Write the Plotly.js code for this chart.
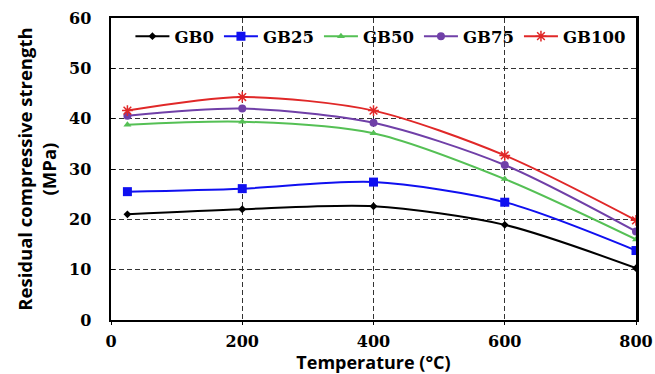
<!DOCTYPE html>
<html><head><meta charset="utf-8">
<script src="https://cdn.plot.ly/plotly-3.0.1.min.js"></script>
<style>html,body{margin:0;padding:0;background:#fff}#chart{width:655px;height:374px}</style>
</head><body><div id="chart"></div>
<script>
var temperature = [25, 200, 400, 600, 800];
var seriesNames = ["GB0", "GB25", "GB50", "GB75", "GB100"];
var gb0   = [21.0, 22.0, 22.6, 18.9, 10.3];
var gb25  = [25.5, 26.1, 27.4, 23.4, 13.8];
var gb50  = [38.8, 39.4, 37.1, 28.0, 16.0];
var gb75  = [40.6, 42.0, 39.2, 30.8, 17.6];
var gb100 = [41.6, 44.3, 41.6, 32.7, 19.8];
var xTicks = [0, 200, 400, 600, 800];
var yTicks = [0, 10, 20, 30, 40, 50, 60];

var colors = ["#000000", "#1010F0", "#55C055", "#7040A8", "#E02828"];
var symbols = ["diamond", "square", "triangle-up", "circle", "asterisk-open"];
var sizes = [6, 9, 7, 8, 9];
var values = [gb0, gb25, gb50, gb75, gb100];

var traces = values.map(function (v, i) {
  return {
    x: temperature, y: v, name: seriesNames[i], type: "scatter", mode: "lines+markers",
    line: {color: colors[i], width: 2, shape: "spline", smoothing: 0.8},
    marker: {symbol: symbols[i], size: sizes[i], color: colors[i], line: {color: colors[i], width: i === 4 ? 1.5 : 0}}
  };
});

var serifFont = "DejaVu Serif, serif";
var layout = {
  width: 655, height: 374,
  margin: {l: 111, r: 19, t: 18, b: 54},
  paper_bgcolor: "#fff", plot_bgcolor: "#fff",
  showlegend: true,
  legend: {orientation: "h", x: 0.037, y: 0.997, xanchor: "left", yanchor: "top",
    bgcolor: "rgba(0,0,0,0)", font: {family: serifFont, size: 16.5, color: "#000", weight: "bold"},
    itemwidth: 34, tracegroupgap: 0},
  xaxis: {range: [0, 800], tickvals: xTicks, ticktext: xTicks.map(String),
    showgrid: true, gridcolor: "#333", griddash: "5px,3px", gridwidth: 1,
    showline: true, linecolor: "#000", linewidth: 2, mirror: true,
    ticks: "outside", ticklen: 3, tickcolor: "#000", zeroline: false,
    ticklabelstandoff: 3,
    tickfont: {family: serifFont, size: 16, color: "#000", weight: "bold"},
    title: {text: "Temperature (°C)", font: {family: "Open Sans, sans-serif", size: 18, color: "#000", weight: "bold"}, standoff: 7}},
  yaxis: {range: [0, 60], tickvals: yTicks, ticktext: yTicks.map(String),
    showgrid: true, gridcolor: "#333", griddash: "5px,3px", gridwidth: 1,
    showline: true, linecolor: "#000", linewidth: 2.5, mirror: true,
    ticks: "inside", ticklen: 4, tickcolor: "#000", zeroline: false,
    ticklabelstandoff: 14,
    tickfont: {family: serifFont, size: 16, color: "#000", weight: "bold"},
    title: {text: "Residual compressive strength<br>(MPa)", font: {family: "Open Sans, sans-serif", size: 18.5, color: "#000", weight: "bold"}, standoff: 8}}
};
Plotly.newPlot("chart", traces, layout, {displayModeBar: false, staticPlot: true});
</script>
</body></html>
